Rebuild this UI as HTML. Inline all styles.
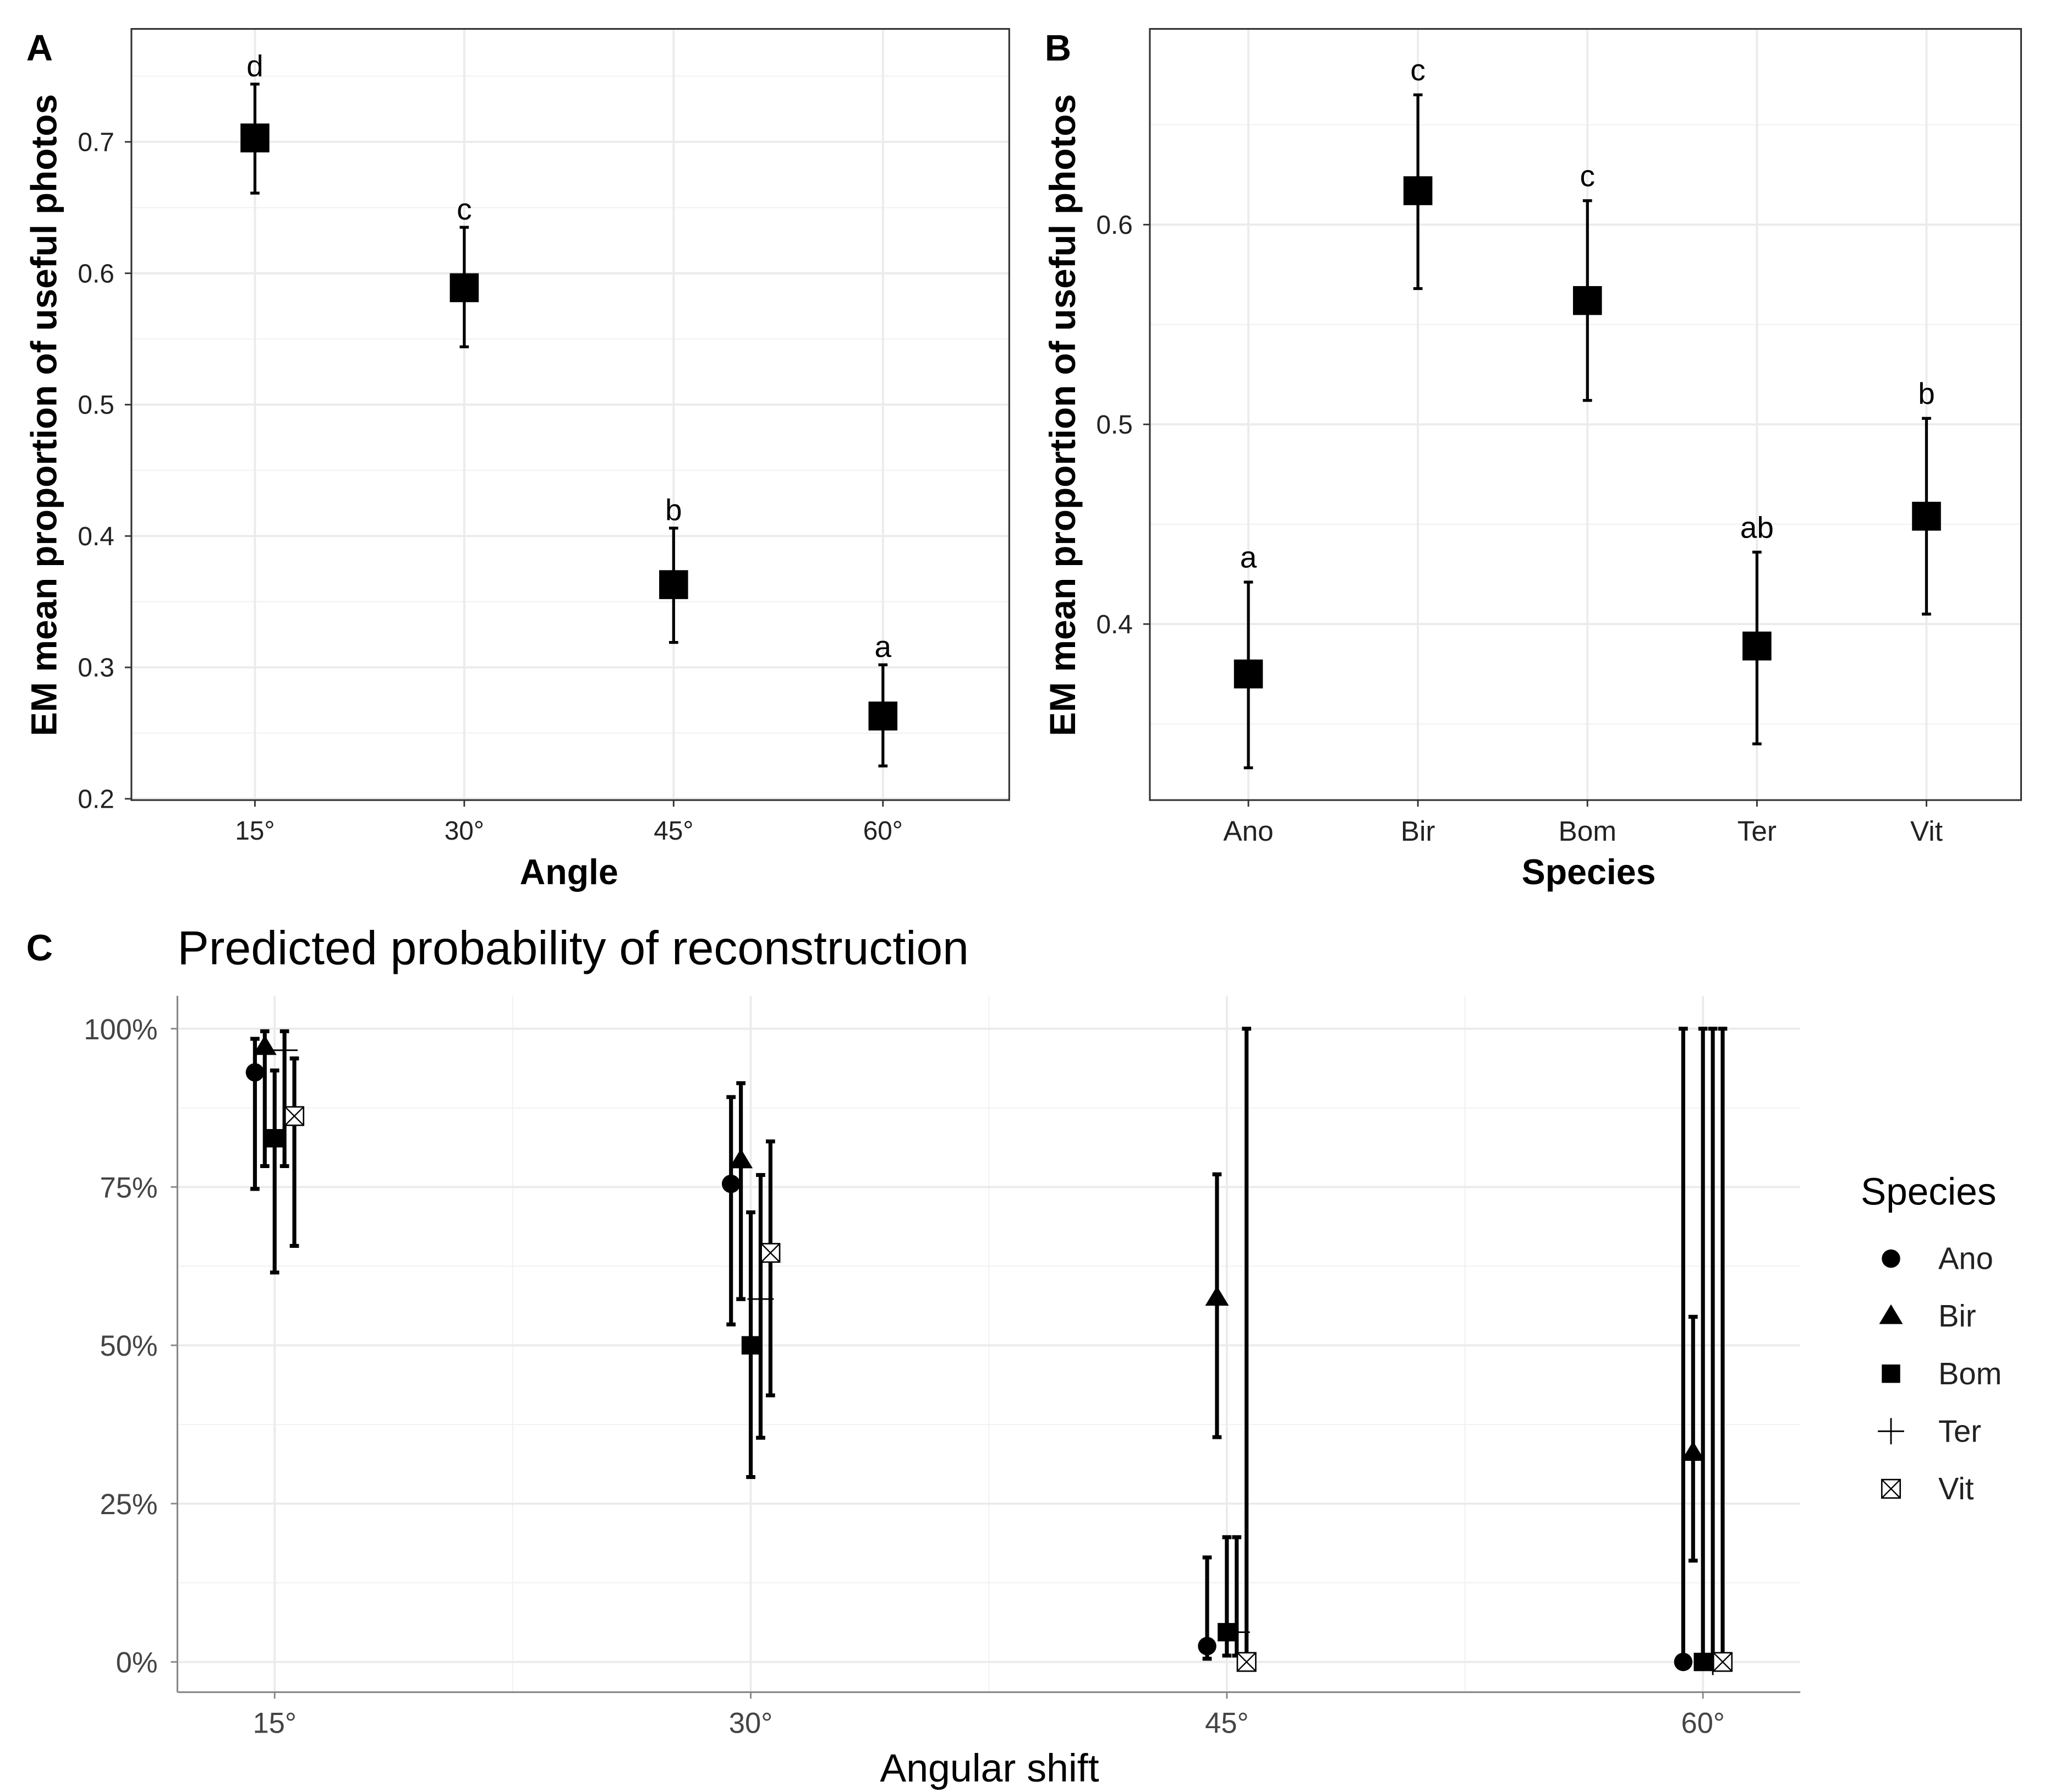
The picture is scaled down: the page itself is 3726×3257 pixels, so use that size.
<!DOCTYPE html>
<html><head><meta charset="utf-8"><style>
html,body{margin:0;padding:0;background:#fff}
svg{display:block;font-family:"Liberation Sans",Arial,sans-serif}
</style></head><body>
<svg id="fig" width="3726" height="3257" viewBox="0 0 1560 1364" preserveAspectRatio="none" xmlns="http://www.w3.org/2000/svg">
<rect width="1560" height="1364" fill="#fff"/>
<g id="pA"></g>
<g id="pB"></g>
<g id="pC"></g>
</svg>
<script>
// Panel A data
const angleCats = ["15°","30°","45°","60°"];
const angleMean = [0.703,0.589,0.363,0.263];
const angleLo = [0.661,0.544,0.319,0.225];
const angleHi = [0.744,0.635,0.406,0.302];
const angleLetters = ["d","c","b","a"];
const aTicks = [0.2,0.3,0.4,0.5,0.6,0.7];
// Panel B data
const speciesCats = ["Ano","Bir","Bom","Ter","Vit"];
const speciesMean = [0.375,0.617,0.562,0.389,0.454];
const speciesLo = [0.328,0.568,0.512,0.340,0.405];
const speciesHi = [0.421,0.665,0.612,0.436,0.503];
const speciesLetters = ["a","c","c","ab","b"];
const bTicks = [0.4,0.5,0.6];
// Panel C data (proportions)
const shiftCats = ["15°","30°","45°","60°"];
const cSpecies = ["Ano","Bir","Bom","Ter","Vit"];
const probAno = [0.931,0.755,0.025,0.0];
const loAno = [0.747,0.533,0.005,0.0];
const hiAno = [0.984,0.892,0.165,1.0];
const probBir = [0.971,0.792,0.575,0.33];
const loBir = [0.783,0.573,0.355,0.16];
const hiBir = [0.996,0.914,0.77,0.545];
const probBom = [0.827,0.50,0.047,0.0];
const loBom = [0.615,0.292,0.01,0.0];
const hiBom = [0.934,0.71,0.197,1.0];
const probTer = [0.966,0.573,0.047,0.0];
const loTer = [0.783,0.354,0.01,0.0];
const hiTer = [0.996,0.769,0.197,1.0];
const probVit = [0.862,0.646,0.0,0.0];
const loVit = [0.657,0.421,0.0,0.0];
const hiVit = [0.953,0.822,1.0,1.0];
const cTicks = [0,0.25,0.5,0.75,1.0];
const cTickLabels = ["0%","25%","50%","75%","100%"];

const NS="http://www.w3.org/2000/svg";
function mk(parent,tag,attrs,text){const e=document.createElementNS(NS,tag);for(const k in attrs)e.setAttribute(k,attrs[k]);if(text!==undefined)e.textContent=text;parent.appendChild(e);return e;}

function errbar(g,x,y1,y2,w,sw){
  mk(g,'line',{x1:x,x2:x,y1:y1,y2:y2,stroke:'#000','stroke-width':sw});
  mk(g,'line',{x1:x-w,x2:x+w,y1:y1,y2:y1,stroke:'#000','stroke-width':sw});
  mk(g,'line',{x1:x-w,x2:x+w,y1:y2,y2:y2,stroke:'#000','stroke-width':sw});
}

// ---------- Panel A ----------
(function(){
  const g=document.getElementById('pA');
  const L=100,R=768,T=22,B=609;
  const ys=v=>608-(v-0.2)*1000;
  const xs=i=>194+i*159.3;
  const grid=mk(g,'g',{});
  
  
  for(let v=0.25;v<0.76;v+=0.1){const y=ys(v);if(y>T&&y<B)mk(grid,'line',{x1:L,x2:R,y1:y,y2:y,stroke:'#f2f2f2','stroke-width':0.9});}
  aTicks.forEach(v=>mk(grid,'line',{x1:L,x2:R,y1:ys(v),y2:ys(v),stroke:'#ebebeb','stroke-width':1.6}));
  angleCats.forEach((c,i)=>mk(grid,'line',{x1:xs(i),x2:xs(i),y1:T,y2:B,stroke:'#ebebeb','stroke-width':1.6}));
  aTicks.forEach(v=>{mk(g,'line',{x1:L-5,x2:L,y1:ys(v),y2:ys(v),stroke:'#333','stroke-width':1.2});
    const t=mk(g,'text',{x:L-13,y:ys(v)+7,'text-anchor':'end','font-size':20,fill:'#222'},v.toFixed(1));
    });
  angleCats.forEach((c,i)=>{mk(g,'line',{x1:xs(i),x2:xs(i),y1:B,y2:B+5,stroke:'#333','stroke-width':1.2});
    const t=mk(g,'text',{x:xs(i),y:B+30,'text-anchor':'middle','font-size':20,fill:'#222'},c);
    });
  angleCats.forEach((c,i)=>{
    const m=mk(g,'g',{});
    
    
    errbar(m,xs(i),ys(angleHi[i]),ys(angleLo[i]),3.5,2.2);
    mk(m,'rect',{x:xs(i)-11,y:ys(angleMean[i])-11,width:22,height:22,fill:'#000'});
    mk(m,'text',{x:xs(i),y:ys(angleHi[i])-6,'text-anchor':'middle','font-size':23,fill:'#000'},angleLetters[i]);
  });
  const r=mk(g,'rect',{x:L,y:T,width:R-L,height:B-T,fill:'none',stroke:'#333','stroke-width':1.3});
  
  const xt=mk(g,'text',{x:433,y:673,'text-anchor':'middle','font-size':27,'font-weight':'bold'},'Angle');
  
  const yt=mk(g,'text',{x:0,y:0,transform:'translate(43,316) rotate(-90)','text-anchor':'middle','font-size':27.5,'font-weight':'bold'},'EM mean proportion of useful photos');
  
  const pl=mk(g,'text',{x:20,y:46,'font-size':28,'font-weight':'bold'},'A');
  
})();

// ---------- Panel B ----------
(function(){
  const g=document.getElementById('pB');
  const L=875,R=1538,T=22,B=609;
  const ys=v=>475-(v-0.4)*1520;
  const xs=i=>950+i*129;
  const grid=mk(g,'g',{});
  
  
  [0.35,0.45,0.55,0.65].forEach(v=>mk(grid,'line',{x1:L,x2:R,y1:ys(v),y2:ys(v),stroke:'#f2f2f2','stroke-width':0.9}));
  bTicks.forEach(v=>mk(grid,'line',{x1:L,x2:R,y1:ys(v),y2:ys(v),stroke:'#ebebeb','stroke-width':1.6}));
  speciesCats.forEach((c,i)=>mk(grid,'line',{x1:xs(i),x2:xs(i),y1:T,y2:B,stroke:'#ebebeb','stroke-width':1.6}));
  bTicks.forEach(v=>{mk(g,'line',{x1:L-5,x2:L,y1:ys(v),y2:ys(v),stroke:'#333','stroke-width':1.2});
    const t=mk(g,'text',{x:L-13,y:ys(v)+7,'text-anchor':'end','font-size':20,fill:'#222'},v.toFixed(1));
    });
  speciesCats.forEach((c,i)=>{mk(g,'line',{x1:xs(i),x2:xs(i),y1:B,y2:B+5,stroke:'#333','stroke-width':1.2});
    const t=mk(g,'text',{x:xs(i),y:B+31,'text-anchor':'middle','font-size':21.5,fill:'#222'},c);
    });
  speciesCats.forEach((c,i)=>{
    const m=mk(g,'g',{});
    
    
    errbar(m,xs(i),ys(speciesHi[i]),ys(speciesLo[i]),3.5,2.2);
    mk(m,'rect',{x:xs(i)-11,y:ys(speciesMean[i])-11,width:22,height:22,fill:'#000'});
    mk(m,'text',{x:xs(i),y:ys(speciesHi[i])-11,'text-anchor':'middle','font-size':23,fill:'#000'},speciesLetters[i]);
  });
  const r=mk(g,'rect',{x:L,y:T,width:R-L,height:B-T,fill:'none',stroke:'#333','stroke-width':1.3});
  
  const xt=mk(g,'text',{x:1209,y:673,'text-anchor':'middle','font-size':27,'font-weight':'bold'},'Species');
  
  const yt=mk(g,'text',{x:0,y:0,transform:'translate(818,316) rotate(-90)','text-anchor':'middle','font-size':27.5,'font-weight':'bold'},'EM mean proportion of useful photos');
  
  const pl=mk(g,'text',{x:795,y:46,'font-size':28,'font-weight':'bold'},'B');
  
})();

// ---------- Panel C ----------
(function(){
  const g=document.getElementById('pC');
  const L=135,R=1370,T=758,B=1288;
  const ys=v=>1265-v*482;
  const xs=i=>209+i*362.3;
  const off=[-15,-7.5,0,7.5,15];
  const grid=mk(g,'g',{});
  
  
  [0.125,0.375,0.625,0.875].forEach(v=>mk(grid,'line',{x1:L,x2:R,y1:ys(v),y2:ys(v),stroke:'#f2f2f2','stroke-width':0.9}));
  [0.5,1.5,2.5].forEach(v=>mk(grid,'line',{x1:xs(v),x2:xs(v),y1:T,y2:B,stroke:'#f2f2f2','stroke-width':0.9}));
  cTicks.forEach(v=>mk(grid,'line',{x1:L,x2:R,y1:ys(v),y2:ys(v),stroke:'#ebebeb','stroke-width':1.6}));
  shiftCats.forEach((c,i)=>mk(grid,'line',{x1:xs(i),x2:xs(i),y1:T,y2:B,stroke:'#ebebeb','stroke-width':1.6}));
  mk(g,'line',{x1:L,x2:L,y1:T,y2:B,stroke:'#888','stroke-width':1.3});
  mk(g,'line',{x1:L,x2:R,y1:B,y2:B,stroke:'#888','stroke-width':1.3});
  cTicks.forEach((v,k)=>{mk(g,'line',{x1:L-5,x2:L,y1:ys(v),y2:ys(v),stroke:'#888','stroke-width':1.2});
    const t=mk(g,'text',{x:L-15,y:ys(v)+8,'text-anchor':'end','font-size':22,fill:'#444'},cTickLabels[k]);
    });
  shiftCats.forEach((c,i)=>{mk(g,'line',{x1:xs(i),x2:xs(i),y1:B,y2:B+5,stroke:'#888','stroke-width':1.2});
    const t=mk(g,'text',{x:xs(i),y:B+31,'text-anchor':'middle','font-size':22,fill:'#444'},c);
    });
  const probs=[probAno,probBir,probBom,probTer,probVit];
  const los=[loAno,loBir,loBom,loTer,loVit];
  const his=[hiAno,hiBir,hiBom,hiTer,hiVit];
  function shape(p,s,x,y){
    if(s===0) mk(p,'circle',{cx:x,cy:y,r:7,fill:'#000'});
    else if(s===1) mk(p,'polygon',{points:`${x},${y-9} ${x+9},${y+6} ${x-9},${y+6}`,fill:'#000'});
    else if(s===2) mk(p,'rect',{x:x-7,y:y-7,width:14,height:14,fill:'#000'});
    else if(s===3){mk(p,'line',{x1:x-10,x2:x+10,y1:y,y2:y,stroke:'#000','stroke-width':1.2});mk(p,'line',{x1:x,x2:x,y1:y-10,y2:y+10,stroke:'#000','stroke-width':1.2});}
    else {mk(p,'rect',{x:x-7,y:y-7,width:14,height:14,fill:'#fff',stroke:'#000','stroke-width':1.1});
      mk(p,'line',{x1:x-7,x2:x+7,y1:y-7,y2:y+7,stroke:'#000','stroke-width':1});mk(p,'line',{x1:x+7,x2:x-7,y1:y-7,y2:y+7,stroke:'#000','stroke-width':1});}
  }
  shiftCats.forEach((c,i)=>{
    cSpecies.forEach((sp,s)=>{
      const m=mk(g,'g',{});
      
      
      const x=xs(i)+off[s];
      errbar(m,x,ys(his[s][i]),ys(los[s][i]),3.5,3);
    });
  });
  shiftCats.forEach((c,i)=>{
    cSpecies.forEach((sp,s)=>{
      const m=mk(g,'g',{});
      
      
      shape(m,s,xs(i)+off[s],ys(probs[s][i]));
    });
  });
  const title=mk(g,'text',{x:135,y:734,'font-size':36,fill:'#000'},'Predicted probability of reconstruction');
  
  const xt=mk(g,'text',{x:753,y:1356,'text-anchor':'middle','font-size':30,fill:'#000'},'Angular shift');
  
  const pl=mk(g,'text',{x:20,y:731,'font-size':28,'font-weight':'bold'},'C');
  
  // legend
  const lg=mk(g,'g',{});
  
  
  mk(lg,'text',{x:1416,y:917,'font-size':29,fill:'#000'},'Species');
  cSpecies.forEach((sp,s)=>{
    const e=mk(lg,'g',{});
    
    
    const y=958+s*43.8;
    shape(e,s,1439,y);
    mk(e,'text',{x:1475,y:y+8,'font-size':23.5,fill:'#222'},sp);
  });
})();
</script>
</body></html>
